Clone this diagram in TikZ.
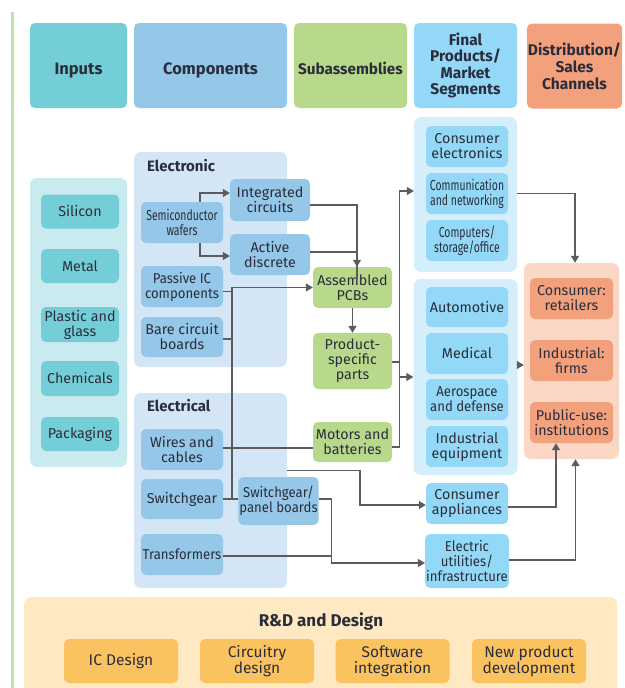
\documentclass[tikz,border=0pt]{standalone}
\usepackage{fontspec}
\setmainfont{Fira Sans}
\newfontfamily\condfont[FakeStretch=0.72]{Fira Sans}
\newfontfamily\narrowfont[FakeStretch=0.92]{Fira Sans}
\usetikzlibrary{arrows.meta}

\definecolor{ink}{HTML}{2B2D3A}
\definecolor{wire}{HTML}{5C5C5C}
\definecolor{rulegreen}{HTML}{C5E1A5}
\definecolor{cInput}{HTML}{74CED7}
\definecolor{cInputBg}{HTML}{C9EAEF}
\definecolor{cComp}{HTML}{95C7E8}
\definecolor{cCompBg}{HTML}{D4E6F5}
\definecolor{cSub}{HTML}{B8D98C}
\definecolor{cFinal}{HTML}{93D8F7}
\definecolor{cFinalBg}{HTML}{D5EEFB}
\definecolor{cDist}{HTML}{F3A17D}
\definecolor{cDistBg}{HTML}{FBD7C5}
\definecolor{cRD}{HTML}{FBC35F}
\definecolor{cRDBg}{HTML}{FEE9C3}

\newcommand\hdrfont{\fontsize{16.5}{16.5}\selectfont\bfseries}
\newcommand\itemfont{\fontsize{14.3}{15}\selectfont}
\newcommand\smallcond{\condfont\fontsize{14.5}{15}\selectfont}
\newcommand\narrowitem{\narrowfont\fontsize{14.3}{15}\selectfont}
\newcommand\rdfont{\fontsize{15.5}{16}\selectfont}

\tikzset{
  hdr/.style={rounded corners=5pt,minimum height=85,inner sep=1pt,align=center,text=ink,font=\hdrfont},
  hdrone/.style={hdr,text height=17pt,text depth=0pt},
  grp/.style={rounded corners=7pt,inner sep=0pt},
  itembox/.style={rounded corners=5pt,inner sep=1pt,align=center,text=ink,font=\itemfont},
  grplabel/.style={inner sep=0pt,text=ink,font=\fontsize{15}{15}\selectfont\bfseries},
  line/.style={draw=wire,line width=1.3pt},
  arr/.style={line,->},
}

\begin{document}
\begin{tikzpicture}[x=1pt,y=-1pt,>={Triangle[length=7pt,width=8pt]}]
\useasboundingbox (0,0) rectangle (624,688);
\draw[line width=3pt,rulegreen] (12,12) -- (12,688);

% column headers
\node[hdrone,fill=cInput,minimum width=97] (hinputs) at (78.5,65.5) {Inputs};
\node[hdrone,fill=cComp,minimum width=153] (hcomp) at (210.5,65.5) {Components};
\node[hdrone,fill=cSub,minimum width=113,font=\fontsize{15.3}{16}\selectfont\bfseries] (hsub) at (350.5,65.5) {Subassemblies};
\node[hdr,fill=cFinal,minimum width=103,font=\fontsize{15.5}{16.5}\selectfont\bfseries] (hfinal) at (465.5,65.5) {Final\\Products/\\Market\\Segments};
\node[hdr,fill=cDist,minimum width=95,font=\fontsize{15.5}{17}\selectfont\bfseries] (hdist) at (574.5,66) {Distribution/\\Sales\\Channels};

% group backgrounds
\node[grp,fill=cInputBg,minimum width=97,minimum height=289] (ingrp) at (78.5,322.5) {};
\node[grp,fill=cCompBg,minimum width=153,minimum height=215] (elngrp) at (210.5,259.5) {};
\node[grp,fill=cCompBg,minimum width=153,minimum height=195] (elcgrp) at (210.5,490.5) {};
\node[grp,fill=cFinalBg,minimum width=103,minimum height=155] (fgrpa) at (465.5,194.5) {};
\node[grp,fill=cFinalBg,minimum width=104,minimum height=196] (fgrpb) at (465.5,377) {};
\node[grp,fill=cDistBg,minimum width=95,minimum height=196] (dgrp) at (571.5,361) {};
\node[grp,fill=cRDBg,minimum width=593,minimum height=110,anchor=north west] (rdgrp) at (24,597) {};

% inputs
\node[itembox,fill=cInput,minimum width=78,minimum height=34] (silicon) at (80,211.5) {Silicon};
\node[itembox,fill=cInput,minimum width=78,minimum height=34] (metal) at (80,266) {Metal};
\node[itembox,fill=cInput,minimum width=78,minimum height=35] (plastic) at (80,324.5) {Plastic and\\glass};
\node[itembox,fill=cInput,minimum width=78,minimum height=35] (chem) at (80,378.5) {Chemicals};
\node[itembox,fill=cInput,minimum width=78,minimum height=34] (pack) at (80,434) {Packaging};

% components
\node[grplabel,anchor=west] (lelectronic) at (147,166) {Electronic};
\node[itembox,fill=cComp,minimum width=82,minimum height=41,font=\smallcond] (wafers) at (182,222.5) {Semiconductor\\wafers};
\node[itembox,fill=cComp,minimum width=80,minimum height=42] (ic) at (270,200) {Integrated\\circuits};
\node[itembox,fill=cComp,minimum width=80,minimum height=41] (active) at (270,254.5) {Active\\discrete};
\node[itembox,fill=cComp,minimum width=82,minimum height=41,font=\narrowitem] (passive) at (182,286.5) {Passive IC\\components};
\node[itembox,fill=cComp,minimum width=82,minimum height=40] (bare) at (182,337) {Bare circuit\\boards};
\node[grplabel,anchor=west] (lelectrical) at (147,406) {Electrical};
\node[itembox,fill=cComp,minimum width=82,minimum height=41] (wires) at (182,449.5) {Wires and\\cables};
\node[itembox,fill=cComp,minimum width=82,minimum height=40] (swgear) at (182,499) {Switchgear};
\node[itembox,fill=cComp,minimum width=82,minimum height=41,font=\narrowitem] (transf) at (182,554.5) {Transformers};
\node[itembox,fill=cComp,minimum width=79,minimum height=48,font=\narrowitem] (swpanel) at (278.5,501) {Switchgear/\\panel boards};

% subassemblies
\node[itembox,fill=cSub,minimum width=79,minimum height=41] (pcb) at (352.5,287.5) {Assembled\\PCBs};
\node[itembox,fill=cSub,minimum width=79,minimum height=56] (prodpart) at (352.5,361) {Product-\\specific\\parts};
\node[itembox,fill=cSub,minimum width=79,minimum height=40] (motors) at (352.5,442) {Motors and\\batteries};

% final products
\node[itembox,fill=cFinal,minimum width=82,minimum height=41] (conselec) at (467,146.5) {Consumer\\electronics};
\node[itembox,fill=cFinal,minimum width=82,minimum height=41,font=\smallcond] (comm) at (467,193.5) {Communication\\and networking};
\node[itembox,fill=cFinal,minimum width=82,minimum height=41,font=\smallcond] (computers) at (467,240.5) {Computers/\\storage/office};
\node[itembox,fill=cFinal,minimum width=82,minimum height=40] (auto) at (467,307) {Automotive};
\node[itembox,fill=cFinal,minimum width=82,minimum height=41] (medical) at (467,353.5) {Medical};
\node[itembox,fill=cFinal,minimum width=82,minimum height=41,font=\narrowitem] (aero) at (467,399.5) {Aerospace\\and defense};
\node[itembox,fill=cFinal,minimum width=82,minimum height=41] (indeq) at (467,446.5) {Industrial\\equipment};
\node[itembox,fill=cFinal,minimum width=82,minimum height=41] (appl) at (467,503.5) {Consumer\\appliances};
\node[itembox,fill=cFinal,minimum width=82,minimum height=54,font=\narrowitem] (util) at (467,561) {Electric\\utilities/\\infrastructure};

% distribution
\node[itembox,fill=cDist,minimum width=83,minimum height=41] (retail) at (571.5,298.5) {Consumer:\\retailers};
\node[itembox,fill=cDist,minimum width=83,minimum height=41] (firms) at (571.5,360.5) {Industrial:\\firms};
\node[itembox,fill=cDist,minimum width=83,minimum height=41] (inst) at (571.5,422.5) {Public-use:\\institutions};

% R&D
\node[grplabel,font=\fontsize{17}{17}\selectfont\bfseries] (rdtitle) at (321,621) {R\&D and Design};
\node[itembox,fill=cRD,minimum width=114,minimum height=44,font=\rdfont] (icdes) at (121,661) {IC Design};
\node[itembox,fill=cRD,minimum width=114,minimum height=44,font=\rdfont] (circ) at (257,661) {Circuitry\\design};
\node[itembox,fill=cRD,minimum width=114,minimum height=44,font=\rdfont] (soft) at (392.5,661) {Software\\integration};
\node[itembox,fill=cRD,minimum width=114,minimum height=44,font=\rdfont] (newprod) at (529,661) {New product\\development};

% trunks
\coordinate (trka) at (232,0);
\coordinate (trkb) at (399.5,0);
\coordinate (trkc) at (331.5,0);
\coordinate (trkd) at (360,0);
\coordinate (pcbin) at ([xshift=4.5]pcb.north);
\coordinate (fain) at ([yshift=3.5]fgrpa.west);
\coordinate (din) at ([yshift=-4]dgrp.west);
\coordinate (uin) at ([yshift=-2]util.west);
\coordinate (ain) at ([yshift=-1.5]appl.west);

% connectors
\draw[arr] ([xshift=18]wafers.north) |- ([yshift=7]ic.west);
\draw[arr] ([xshift=18]wafers.south) |- ([yshift=-1.5]active.west);
\draw[arr] ([yshift=-5]ic.east) -| (pcbin);
\draw[line] ([yshift=2.5]active.east) -| ([yshift=-12]pcbin);
\draw[line] ([yshift=-5]passive.east) -- ([yshift=-5]passive.east -| trka);
\draw[line] ([yshift=-2]bare.east) -- ([yshift=-2]bare.east -| trka);
\draw[arr] (swgear.east -| trka) -- (trka |- pcb.west) -- (pcb.west);
\draw[line] (swgear.east) -- (swgear.east -| swpanel.west);
\draw[line] ([yshift=1.5]wires.east) -- ([yshift=1.5]wires.east -| motors.west);
\draw[arr] (pcb.south) -- (prodpart.north);
\draw[line] ([yshift=-1]prodpart.east) -- ([yshift=-1]prodpart.east -| trkb);
\draw[arr] ([yshift=-5]motors.east) -| (trkb |- fain) -- (fain);
\draw[arr] (trkb |- fgrpb.west) -- (fgrpb.west);
\draw[arr] (fgrpa.east |- comm.east) -| ([xshift=3.5]dgrp.north);
\draw[arr] (fgrpb.east |- din) -- (din);
\draw[arr] ([yshift=-3.5]appl.east) -| ([xshift=-15.5]inst.south);
\draw[arr] ([yshift=1]util.east) -| ([xshift=4]dgrp.south);
\draw[arr] ([yshift=2]swpanel.east) -| (trkc |- uin) -- (uin);
\draw[line] ([yshift=-1.5]transf.east) -- ([yshift=-1.5]transf.east -| trkc);
\draw[arr] (elcgrp.east |- wires.south) -| (trkd |- ain) -- (ain);
\end{tikzpicture}
\end{document}
